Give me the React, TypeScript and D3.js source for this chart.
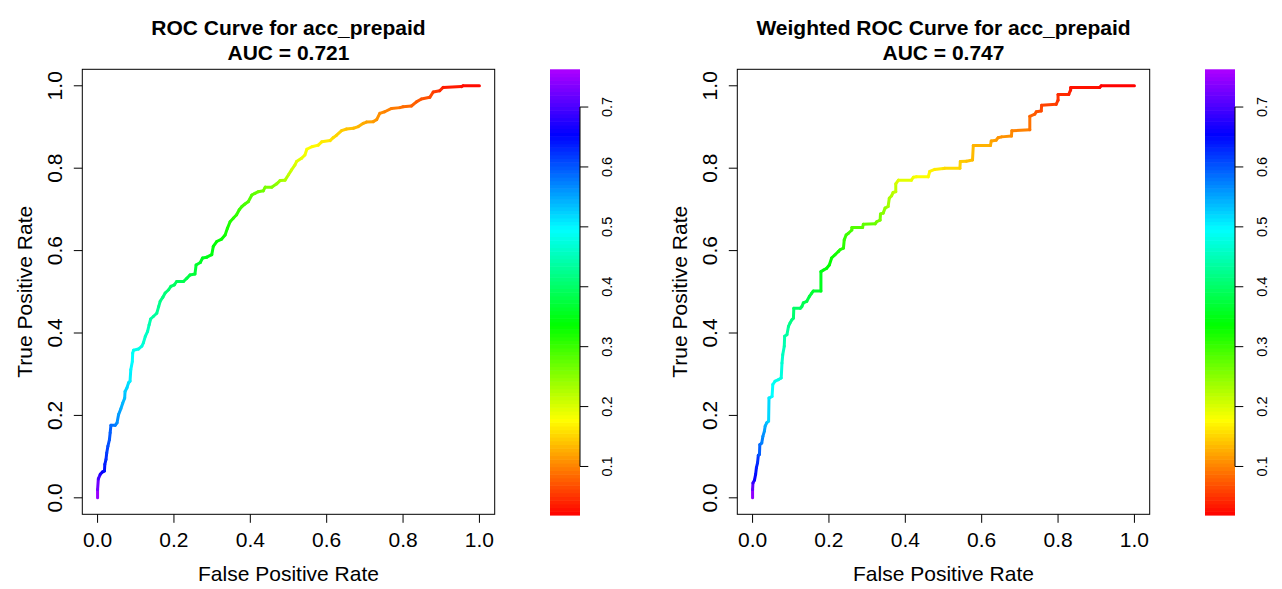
import React from "react";
import * as d3 from "d3";

// ---------- data ----------
const X_TICKS = [0, 0.2, 0.4, 0.6, 0.8, 1.0];
const Y_TICKS = [0, 0.2, 0.4, 0.6, 0.8, 1.0];
const KEY_TICKS = [0.1, 0.2, 0.3, 0.4, 0.5, 0.6, 0.7];
const KEY_RANGE = [0.019, 0.763];

const LEFT_TITLE = "ROC Curve for acc_prepaid";
const LEFT_AUC = "AUC = 0.721";
const RIGHT_TITLE = "Weighted ROC Curve for acc_prepaid";
const RIGHT_AUC = "AUC = 0.747";

const LEFT_FPR = [0, 0, 0.002, 0.007, 0.013, 0.018, 0.019, 0.022, 0.024, 0.027, 0.031, 0.033, 0.035, 0.046, 0.051, 0.055, 0.061, 0.066, 0.071, 0.072, 0.077, 0.081, 0.085, 0.087, 0.091, 0.092, 0.094, 0.107, 0.116, 0.12, 0.125, 0.131, 0.135, 0.139, 0.146, 0.155, 0.16, 0.164, 0.171, 0.177, 0.186, 0.192, 0.201, 0.207, 0.225, 0.234, 0.242, 0.255, 0.258, 0.269, 0.275, 0.286, 0.299, 0.303, 0.312, 0.325, 0.334, 0.34, 0.347, 0.356, 0.364, 0.371, 0.378, 0.386, 0.395, 0.404, 0.412, 0.421, 0.434, 0.439, 0.456, 0.469, 0.478, 0.491, 0.5, 0.508, 0.517, 0.521, 0.534, 0.543, 0.548, 0.561, 0.578, 0.587, 0.609, 0.617, 0.626, 0.639, 0.652, 0.67, 0.683, 0.696, 0.704, 0.722, 0.731, 0.739, 0.752, 0.77, 0.792, 0.8, 0.822, 0.835, 0.848, 0.87, 0.879, 0.896, 0.905, 0.953, 0.957, 1.0];
const LEFT_TPR = [0, 0.02, 0.046, 0.057, 0.063, 0.065, 0.081, 0.093, 0.109, 0.125, 0.141, 0.158, 0.176, 0.176, 0.182, 0.202, 0.216, 0.23, 0.242, 0.258, 0.267, 0.279, 0.283, 0.311, 0.331, 0.351, 0.358, 0.361, 0.368, 0.376, 0.392, 0.404, 0.42, 0.434, 0.44, 0.448, 0.464, 0.477, 0.487, 0.497, 0.505, 0.513, 0.517, 0.525, 0.525, 0.533, 0.541, 0.543, 0.565, 0.571, 0.582, 0.584, 0.59, 0.61, 0.622, 0.628, 0.638, 0.654, 0.67, 0.679, 0.687, 0.699, 0.707, 0.713, 0.719, 0.735, 0.739, 0.743, 0.745, 0.754, 0.754, 0.762, 0.77, 0.771, 0.784, 0.796, 0.808, 0.816, 0.824, 0.832, 0.846, 0.852, 0.856, 0.864, 0.867, 0.874, 0.88, 0.891, 0.895, 0.897, 0.901, 0.909, 0.912, 0.913, 0.918, 0.933, 0.937, 0.945, 0.947, 0.949, 0.951, 0.961, 0.968, 0.972, 0.985, 0.988, 0.996, 0.998, 1.0, 1.0];
const LEFT_CUT = [0.76, 0.74, 0.71, 0.68, 0.66, 0.65, 0.64, 0.63, 0.62, 0.61, 0.6, 0.6, 0.59, 0.58, 0.57, 0.56, 0.55, 0.54, 0.54, 0.53, 0.52, 0.52, 0.51, 0.5, 0.5, 0.49, 0.49, 0.48, 0.48, 0.47, 0.46, 0.46, 0.45, 0.44, 0.44, 0.43, 0.43, 0.42, 0.42, 0.41, 0.41, 0.4, 0.4, 0.39, 0.39, 0.38, 0.38, 0.37, 0.37, 0.36, 0.36, 0.35, 0.35, 0.34, 0.34, 0.33, 0.33, 0.32, 0.32, 0.31, 0.31, 0.3, 0.3, 0.29, 0.29, 0.28, 0.28, 0.27, 0.27, 0.26, 0.26, 0.25, 0.24, 0.23, 0.22, 0.21, 0.2, 0.2, 0.19, 0.19, 0.18, 0.18, 0.17, 0.17, 0.16, 0.16, 0.15, 0.15, 0.14, 0.14, 0.13, 0.13, 0.12, 0.12, 0.11, 0.11, 0.1, 0.1, 0.09, 0.09, 0.08, 0.08, 0.07, 0.07, 0.06, 0.05, 0.04, 0.03, 0.03, 0.02];

const RIGHT_FPR = [0, 0, 0.001, 0.005, 0.008, 0.01, 0.013, 0.015, 0.018, 0.019, 0.024, 0.027, 0.031, 0.033, 0.037, 0.042, 0.043, 0.051, 0.053, 0.059, 0.068, 0.075, 0.077, 0.079, 0.083, 0.084, 0.09, 0.094, 0.098, 0.103, 0.107, 0.108, 0.125, 0.129, 0.133, 0.142, 0.149, 0.155, 0.159, 0.179, 0.179, 0.186, 0.194, 0.201, 0.207, 0.216, 0.225, 0.229, 0.238, 0.24, 0.245, 0.251, 0.26, 0.26, 0.288, 0.29, 0.321, 0.325, 0.334, 0.335, 0.342, 0.347, 0.355, 0.358, 0.364, 0.368, 0.375, 0.375, 0.382, 0.416, 0.421, 0.429, 0.46, 0.464, 0.477, 0.499, 0.503, 0.543, 0.544, 0.56, 0.576, 0.578, 0.623, 0.625, 0.638, 0.643, 0.652, 0.678, 0.679, 0.726, 0.726, 0.739, 0.743, 0.756, 0.757, 0.795, 0.8, 0.8, 0.828, 0.833, 0.833, 0.909, 0.913, 1.0];
const RIGHT_TPR = [0, 0.02, 0.036, 0.043, 0.057, 0.073, 0.085, 0.103, 0.105, 0.129, 0.133, 0.149, 0.162, 0.174, 0.182, 0.186, 0.242, 0.246, 0.275, 0.283, 0.287, 0.291, 0.327, 0.347, 0.368, 0.392, 0.396, 0.416, 0.424, 0.432, 0.436, 0.46, 0.46, 0.464, 0.473, 0.477, 0.489, 0.497, 0.502, 0.502, 0.549, 0.553, 0.557, 0.565, 0.582, 0.59, 0.598, 0.602, 0.606, 0.626, 0.638, 0.642, 0.65, 0.656, 0.656, 0.664, 0.665, 0.67, 0.674, 0.689, 0.691, 0.703, 0.707, 0.727, 0.733, 0.741, 0.743, 0.762, 0.771, 0.771, 0.778, 0.779, 0.779, 0.792, 0.797, 0.799, 0.8, 0.8, 0.816, 0.817, 0.82, 0.855, 0.855, 0.866, 0.868, 0.874, 0.876, 0.878, 0.891, 0.893, 0.926, 0.931, 0.937, 0.939, 0.953, 0.955, 0.965, 0.979, 0.979, 0.99, 0.996, 0.996, 1.0, 1.0];
const RIGHT_CUT = [0.76, 0.73, 0.7, 0.67, 0.65, 0.64, 0.63, 0.62, 0.6, 0.59, 0.58, 0.57, 0.56, 0.55, 0.54, 0.53, 0.51, 0.5, 0.49, 0.49, 0.48, 0.48, 0.47, 0.46, 0.45, 0.44, 0.44, 0.43, 0.42, 0.42, 0.41, 0.4, 0.4, 0.39, 0.39, 0.38, 0.38, 0.37, 0.37, 0.36, 0.35, 0.35, 0.34, 0.34, 0.33, 0.33, 0.32, 0.32, 0.31, 0.31, 0.3, 0.3, 0.29, 0.29, 0.28, 0.28, 0.27, 0.27, 0.26, 0.26, 0.25, 0.25, 0.24, 0.23, 0.23, 0.22, 0.22, 0.21, 0.2, 0.19, 0.19, 0.18, 0.18, 0.17, 0.17, 0.16, 0.16, 0.15, 0.15, 0.14, 0.14, 0.13, 0.13, 0.12, 0.12, 0.11, 0.11, 0.11, 0.1, 0.1, 0.08, 0.08, 0.07, 0.07, 0.06, 0.06, 0.05, 0.05, 0.04, 0.04, 0.03, 0.03, 0.02, 0.02];

// ---------- styles / layout ----------
const FONT = "'Liberation Sans', Arial, Helvetica, sans-serif";
const W = 1282;
const H = 589;

const hueScale = d3.scaleLinear().domain(KEY_RANGE).range([0, 281]).clamp(true);
const colorOf = (v: number) => d3.hsl(hueScale(v), 1, 0.5).toString();

type PanelProps = {
  dx: number;
  title: string;
  auc: string;
  fpr: number[];
  tpr: number[];
  cut: number[];
};

function Panel({ dx, title, auc, fpr, tpr, cut }: PanelProps) {
  const left = 82.3 + dx;
  const right = 494.7 + dx;
  const top = 69.3;
  const bottom = 514.3;
  const x = d3.scaleLinear().domain([-0.04, 1.04]).range([left, right]);
  const y = d3.scaleLinear().domain([-0.04, 1.04]).range([bottom, top]);
  const barL = 550 + dx;
  const barR = 580 + dx;
  const k = d3.scaleLinear().domain(KEY_RANGE).range([515, 69.3]);
  const cx = (left + right) / 2;
  const cy = (top + bottom) / 2;

  const nBands = 120;
  const bands = d3.range(nBands).map((i) => {
    const v0 = KEY_RANGE[0] + ((KEY_RANGE[1] - KEY_RANGE[0]) * i) / nBands;
    const v1 = KEY_RANGE[0] + ((KEY_RANGE[1] - KEY_RANGE[0]) * (i + 1)) / nBands;
    return { v0, v1, c: colorOf((v0 + v1) / 2) };
  });

  const segs = d3.range(fpr.length - 1).map((i) => ({
    x1: x(fpr[i]),
    y1: y(tpr[i]),
    x2: x(fpr[i + 1]),
    y2: y(tpr[i + 1]),
    c: colorOf((cut[i] + cut[i + 1]) / 2),
  }));

  return (
    <g fontFamily={FONT}>
      {/* title */}
      <text x={cx} y={35} textAnchor="middle" fontWeight="bold" fontSize={21}>
        {title}
      </text>
      <text x={cx} y={59.5} textAnchor="middle" fontWeight="bold" fontSize={21}>
        {auc}
      </text>

      {/* curve */}
      <g strokeWidth={3} strokeLinecap="round" fill="none">
        {segs.map((s, i) => (
          <line key={i} x1={s.x1} y1={s.y1} x2={s.x2} y2={s.y2} stroke={s.c} />
        ))}
      </g>

      {/* box */}
      <rect x={left} y={top} width={right - left} height={bottom - top} fill="none" stroke="#000" strokeWidth={1} />

      {/* x axis */}
      {X_TICKS.map((t) => (
        <g key={"x" + t}>
          <line x1={x(t)} x2={x(t)} y1={bottom} y2={bottom + 8.5} stroke="#000" />
          <text x={x(t)} y={547} textAnchor="middle" fontSize={21}>
            {t.toFixed(1)}
          </text>
        </g>
      ))}
      <text x={cx} y={580.7} textAnchor="middle" fontSize={21}>
        False Positive Rate
      </text>

      {/* y axis */}
      {Y_TICKS.map((t) => (
        <g key={"y" + t}>
          <line x1={left} x2={left - 8.5} y1={y(t)} y2={y(t)} stroke="#000" />
          <text transform={`translate(${62 + dx},${y(t)}) rotate(-90)`} textAnchor="middle" fontSize={21}>
            {t.toFixed(1)}
          </text>
        </g>
      ))}
      <text transform={`translate(${31.7 + dx},${cy}) rotate(-90)`} textAnchor="middle" fontSize={21}>
        True Positive Rate
      </text>

      {/* color key */}
      {bands.map((b, i) => (
        <rect key={i} x={barL} width={barR - barL} y={k(b.v1)} height={k(b.v0) - k(b.v1) + 0.6} fill={b.c} />
      ))}
      <line x1={barR} x2={barR} y1={k(0.1)} y2={k(0.7)} stroke="#000" />
      {KEY_TICKS.map((t) => (
        <g key={"k" + t}>
          <line x1={barR} x2={barR + 8.3} y1={k(t)} y2={k(t)} stroke="#000" />
          <text transform={`translate(${611.7 + dx},${k(t)}) rotate(-90)`} textAnchor="middle" fontSize={14.5}>
            {t.toFixed(1)}
          </text>
        </g>
      ))}
    </g>
  );
}

export default function App() {
  return (
    <svg
      width={W}
      height={H}
      viewBox={`0 0 ${W} ${H}`}
      style={{ position: "absolute", left: 0, top: 0, display: "block", background: "#fff" }}
    >
      <rect x={0} y={0} width={W} height={H} fill="#fff" />
      <Panel dx={0} title={LEFT_TITLE} auc={LEFT_AUC} fpr={LEFT_FPR} tpr={LEFT_TPR} cut={LEFT_CUT} />
      <Panel dx={655} title={RIGHT_TITLE} auc={RIGHT_AUC} fpr={RIGHT_FPR} tpr={RIGHT_TPR} cut={RIGHT_CUT} />
    </svg>
  );
}
